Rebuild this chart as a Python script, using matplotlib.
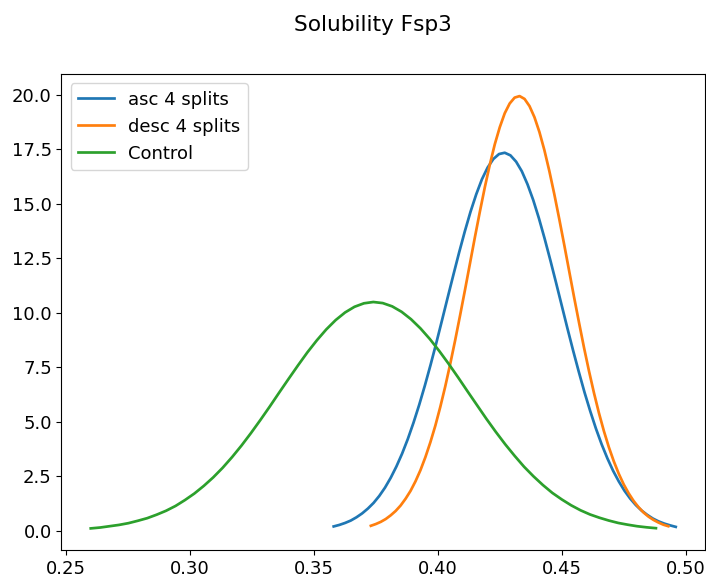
import matplotlib
matplotlib.use('Agg')
import matplotlib.pyplot as plt

# curve points
asc_x = [0.3580, 0.3603, 0.3626, 0.3649, 0.3672, 0.3695, 0.3718, 0.3741, 0.3764, 0.3787,
         0.3810, 0.3833, 0.3856, 0.3879, 0.3902, 0.3925, 0.3948, 0.3971, 0.3994, 0.4017,
         0.4040, 0.4063, 0.4086, 0.4109, 0.4132, 0.4155, 0.4178, 0.4201, 0.4224, 0.4247,
         0.4270, 0.4293, 0.4316, 0.4339, 0.4362, 0.4385, 0.4408, 0.4431, 0.4454, 0.4477,
         0.4500, 0.4523, 0.4546, 0.4569, 0.4592, 0.4615, 0.4638, 0.4661, 0.4684, 0.4707,
         0.4730, 0.4753, 0.4776, 0.4799, 0.4822, 0.4845, 0.4868, 0.4891, 0.4914, 0.4937, 0.4960]
asc_y = [0.20, 0.27, 0.36, 0.47, 0.62, 0.80, 1.02, 1.28, 1.60, 1.98,
         2.43, 2.95, 3.54, 4.21, 4.96, 5.78, 6.67, 7.62, 8.62, 9.66,
         10.71, 11.75, 12.77, 13.74, 14.64, 15.44, 16.13, 16.67, 17.06, 17.29,
         17.35, 17.23, 16.94, 16.50, 15.90, 15.18, 14.34, 13.41, 12.42, 11.39,
         10.34, 9.29, 8.27, 7.29, 6.35, 5.49, 4.69, 3.97, 3.33, 2.76,
         2.27, 1.84, 1.48, 1.18, 0.93, 0.73, 0.56, 0.43, 0.33, 0.25, 0.18]

desc_x = [0.373, 0.375, 0.377, 0.379, 0.381, 0.383, 0.385, 0.387, 0.389, 0.391,
          0.393, 0.395, 0.397, 0.399, 0.401, 0.403, 0.405, 0.407, 0.409, 0.411,
          0.413, 0.415, 0.417, 0.419, 0.421, 0.423, 0.425, 0.427, 0.429, 0.431,
          0.433, 0.435, 0.437, 0.439, 0.441, 0.443, 0.445, 0.447, 0.449, 0.451,
          0.453, 0.455, 0.457, 0.459, 0.461, 0.463, 0.465, 0.467, 0.469, 0.471,
          0.473, 0.475, 0.477, 0.479, 0.481, 0.483, 0.485, 0.487, 0.489, 0.491, 0.493]
desc_y = [0.23, 0.31, 0.41, 0.54, 0.71, 0.91, 1.16, 1.47, 1.83, 2.27,
          2.78, 3.38, 4.06, 4.82, 5.68, 6.62, 7.65, 8.74, 9.89, 11.07,
          12.28, 13.49, 14.66, 15.78, 16.81, 17.74, 18.52, 19.16, 19.61, 19.88,
          19.95, 19.82, 19.49, 18.98, 18.30, 17.47, 16.51, 15.45, 14.31, 13.13,
          11.92, 10.71, 9.54, 8.40, 7.33, 6.33, 5.41, 4.58, 3.84, 3.19,
          2.62, 2.13, 1.72, 1.37, 1.08, 0.84, 0.65, 0.50, 0.38, 0.28, 0.21]

ctrl_x = [0.2600, 0.2638, 0.2676, 0.2714, 0.2752, 0.2790, 0.2828, 0.2866, 0.2904, 0.2942,
          0.2980, 0.3018, 0.3056, 0.3094, 0.3132, 0.3170, 0.3208, 0.3246, 0.3284, 0.3322,
          0.3360, 0.3398, 0.3436, 0.3474, 0.3512, 0.3550, 0.3588, 0.3626, 0.3664, 0.3702,
          0.3740, 0.3778, 0.3816, 0.3854, 0.3892, 0.3930, 0.3968, 0.4006, 0.4044, 0.4082,
          0.4120, 0.4158, 0.4196, 0.4234, 0.4272, 0.4310, 0.4348, 0.4386, 0.4424, 0.4462,
          0.4500, 0.4538, 0.4576, 0.4614, 0.4652, 0.4690, 0.4728, 0.4766, 0.4804, 0.4842, 0.4880]
ctrl_y = [0.11, 0.15, 0.21, 0.27, 0.35, 0.46, 0.58, 0.74, 0.92, 1.14,
          1.41, 1.71, 2.06, 2.45, 2.89, 3.38, 3.91, 4.48, 5.08, 5.70,
          6.34, 6.97, 7.59, 8.19, 8.74, 9.24, 9.67, 10.02, 10.28, 10.44,
          10.50, 10.45, 10.30, 10.05, 9.71, 9.29, 8.80, 8.25, 7.66, 7.04,
          6.40, 5.77, 5.14, 4.54, 3.97, 3.44, 2.94, 2.50, 2.10, 1.74,
          1.44, 1.17, 0.94, 0.75, 0.60, 0.47, 0.36, 0.28, 0.21, 0.16, 0.12]

plt.rcParams['font.size'] = 13

fig = plt.figure(figsize=(7.06, 5.8), dpi=100)
ax = fig.add_axes([0.0871, 0.0517, 0.9115, 0.8199])
ax.plot(asc_x, asc_y, lw=1.95, label='asc 4 splits')
ax.plot(desc_x, desc_y, lw=1.95, label='desc 4 splits')
ax.plot(ctrl_x, ctrl_y, lw=1.95, label='Control')
ax.legend(loc='upper left')
fig.suptitle('Solubility Fsp3', x=0.528, y=0.974)

fig.savefig('out.png', dpi=100)
